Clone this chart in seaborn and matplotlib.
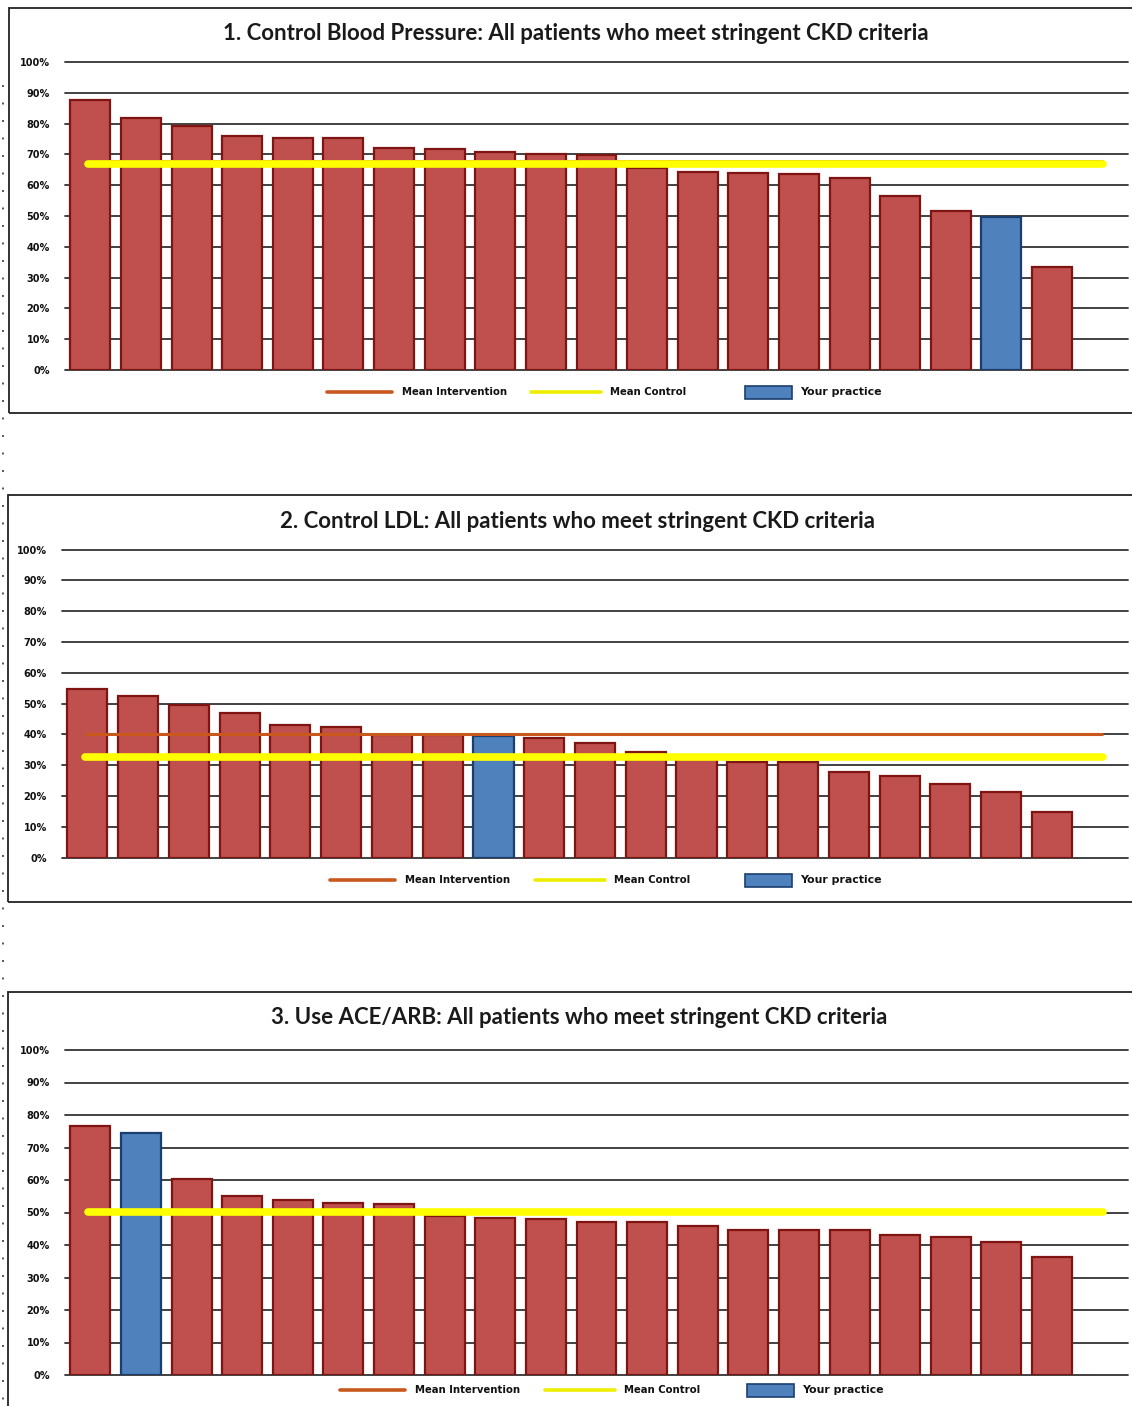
import matplotlib
matplotlib.use("Agg")
import matplotlib.pyplot as plt
from matplotlib.lines import Line2D
from matplotlib.patches import Rectangle
import pandas as pd
import seaborn as sns

W, H = 1132, 1406

# ---- data ----
bp_titles = "1. Control Blood Pressure: All patients who meet stringent CKD criteria"
bp_values = [87.6, 81.8, 79.2, 76.1, 75.4, 75.4, 72.2, 71.9, 70.8, 70.1,
             69.7, 65.7, 64.3, 64.0, 63.7, 62.4, 56.4, 51.7, 49.7, 33.5]
bp_practice = 18
bp_mean_intervention = 67.8
bp_mean_control = 66.9

ldl_title = "2. Control LDL: All patients who meet stringent CKD criteria"
ldl_values = [54.7, 52.4, 49.5, 46.8, 43.0, 42.4, 39.7, 39.8, 39.5, 39.0,
              37.1, 34.2, 32.0, 31.2, 31.2, 27.7, 26.4, 24.0, 21.2, 14.7]
ldl_practice = 8
ldl_mean_intervention = 40.1
ldl_mean_control = 32.6

ace_title = "3. Use ACE/ARB: All patients who meet stringent CKD criteria"
ace_values = [76.6, 74.4, 60.3, 55.1, 53.7, 52.9, 52.5, 49.0, 48.4, 48.1,
              47.0, 47.0, 45.9, 44.7, 44.7, 44.6, 43.1, 42.6, 40.9, 36.4]
ace_practice = 1
ace_mean_intervention = 50.0
ace_mean_control = 50.1

y_ticks = [0, 10, 20, 30, 40, 50, 60, 70, 80, 90, 100]
legend_labels = ["Mean Intervention", "Mean Control", "Your practice"]

RED = "#C0504D"
RED_EDGE = "#7E1512"
BLUE = "#4F81BD"
BLUE_EDGE = "#1A3F6E"
YELLOW = "#FFFF00"
ORANGE = "#C9581C"
GRID = "#333333"

# panel geometry in pixels: box, axes left/right, y of 0%, pixels per %, title y, legend y
panels = [
    dict(title=bp_titles, values=bp_values, practice=bp_practice,
         mi=bp_mean_intervention, mc=bp_mean_control,
         box=(9, 8, 1140, 413), left=65, right=1128, y0=370, ppp=3.08,
         title_x=576, title_y=33, leg_y=392, leg_x=[327, 531, 745]),
    dict(title=ldl_title, values=ldl_values, practice=ldl_practice,
         mi=ldl_mean_intervention, mc=ldl_mean_control,
         box=(8, 495, 1140, 902), left=62, right=1128, y0=857.7, ppp=3.082,
         title_x=577, title_y=521, leg_y=880, leg_x=[330, 535, 745]),
    dict(title=ace_title, values=ace_values, practice=ace_practice,
         mi=ace_mean_intervention, mc=ace_mean_control,
         box=(8, 992, 1140, 1420), left=65, right=1128, y0=1375, ppp=3.25,
         title_x=579, title_y=1018, leg_y=1390, leg_x=[340, 545, 747]),
]

sns.set_theme(style="white")
plt.rcParams["font.family"] = ["DejaVu Sans"]

fig = plt.figure(figsize=(W / 100, H / 100), dpi=100)


def fx(x):
    return x / W


def fy(y):
    return 1 - y / H


# faint dotted line along the left edge of the page
fig.add_artist(Line2D([fx(3), fx(3)], [fy(85), fy(1406)], color="#555555",
                      lw=1.4, ls=(0, (1, 8))))

for p in panels:
    bx0, by0, bx1, by1 = p["box"]
    fig.add_artist(Rectangle((fx(bx0), fy(by1)), fx(bx1 - bx0), (by1 - by0) / H,
                             fill=False, edgecolor="#222222", lw=1.3))

    top_pct = 101
    ax_top = p["y0"] - top_pct * p["ppp"]
    ax = fig.add_axes([fx(p["left"]), fy(p["y0"]), fx(p["right"] - p["left"]),
                       (p["y0"] - ax_top) / H])

    n = len(p["values"])
    df = pd.DataFrame({"site": [str(i + 1) for i in range(n)], "pct": p["values"]})
    colors = {s: (BLUE if i == p["practice"] else RED) for i, s in enumerate(df["site"])}
    sns.barplot(data=df, x="site", y="pct", hue="site", palette=colors,
                order=list(df["site"]), width=0.79, legend=False, ax=ax,
                zorder=3, saturation=1)
    for i, bar in enumerate(ax.patches):
        bar.set_edgecolor(BLUE_EDGE if i == p["practice"] else RED_EDGE)
        bar.set_linewidth(1.6)

    for t in y_ticks:
        ax.axhline(t, color=GRID, lw=1.3, zorder=1, clip_on=False)

    # one empty slot after the last practice, like the source chart
    ax.set_xlim(-0.5, n + 0.5)
    ax.set_ylim(0, top_pct)
    ax.hlines(p["mi"], -0.05, n, color=ORANGE, lw=2.2, zorder=4)
    ax.hlines(p["mc"], -0.05, n, color=YELLOW, lw=5.5, zorder=5,
              capstyle="round")

    ax.set_yticks(y_ticks)
    ax.set_yticklabels([f"{t}%" for t in y_ticks], fontsize=7,
                       fontweight="bold", color="#111111")
    ax.tick_params(axis="y", length=0, pad=11)
    ax.set_xticks([])
    ax.set_xlabel("")
    ax.set_ylabel("")
    for s in ax.spines.values():
        s.set_visible(False)

    fig.text(fx(p["title_x"]), fy(p["title_y"]), p["title"], ha="center",
             va="center", fontsize=16, family=["Lato", "DejaVu Sans"],
             fontweight="bold", color="#1a1a1a")

    ly = fy(p["leg_y"])
    ox, yx, bxl = p["leg_x"]
    fig.add_artist(Line2D([fx(ox), fx(ox + 65)], [ly, ly], color=ORANGE, lw=2.6))
    fig.text(fx(ox + 75), ly, legend_labels[0], ha="left", va="center",
             fontsize=7.3, fontweight="bold", color="#111111")
    fig.add_artist(Line2D([fx(yx), fx(yx + 70)], [ly, ly], color="#EEEE00", lw=2.6))
    fig.text(fx(yx + 79), ly, legend_labels[1], ha="left", va="center",
             fontsize=7.3, fontweight="bold", color="#111111")
    fig.add_artist(Rectangle((fx(bxl), ly - 6.5 / H), fx(47), 13 / H,
                             facecolor=BLUE, edgecolor=BLUE_EDGE, lw=1.2))
    fig.text(fx(bxl + 55), ly, legend_labels[2], ha="left", va="center",
             fontsize=7.9, fontweight="bold", color="#111111")

fig.savefig("out.png", dpi=100)
